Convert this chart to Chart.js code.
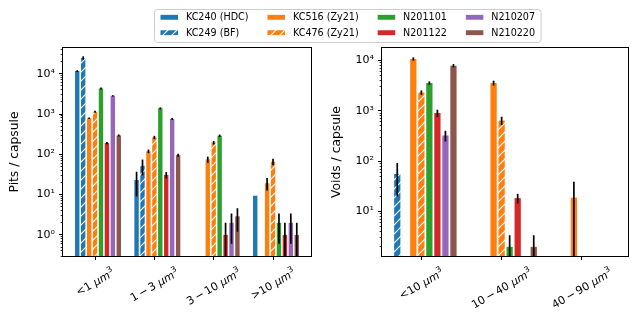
<!DOCTYPE html>
<html>
<head>
<meta charset="utf-8">
<script src="https://cdn.jsdelivr.net/npm/chart.js@4.4.1/dist/chart.umd.min.js"></script>
<style>
  html, body { margin: 0; padding: 0; background: #fff; }
  #wrap { position: relative; width: 639px; height: 323px; overflow: hidden; }
  canvas { position: absolute; top: 0; }
  #pits { left: 0; }
  #voids { left: 322px; }
</style>
</head>
<body>
<div id="wrap">
  <canvas id="pits" width="639" height="323"></canvas>
  <canvas id="voids" width="317" height="323"></canvas>
</div>
<script>
// samples, in legend order
const samples = ['KC240 (HDC)', 'KC249 (BF)', 'KC516 (Zy21)', 'KC476 (Zy21)', 'N201101', 'N201122', 'N210207', 'N210220'];
const sampleColors = ['#1f77b4', '#1f77b4', '#ff7f0e', '#ff7f0e', '#2ca02c', '#d62728', '#9467bd', '#8c564b'];
const sampleHatched = [false, true, false, true, false, false, false, false];

// pits per capsule, one row per sample, one column per size bin
const pitBins = ['<1', '1\u2009\u2212\u20093', '3\u2009\u2212\u200910', '>10'];
const pitValues = [
  [11600, 23, null, 9.4],     // KC240
  [24700, 52, null, null],    // KC249
  [787, 119, 74.5, 19.2],     // KC516
  [1140, 263, 195, 65.5],     // KC476
  [4290, 1384, 289, 2],       // N201101
  [191, 30.7, 1, 1],          // N201122
  [2820, 755, 2, 2],          // N210207
  [294, 95, 2.9, 1]           // N210220
];
const pitErrors = [
  [600, 14, 0, 0],
  [2300, 22, 0, 0],
  [30, 12, 13, 6.5],
  [70, 25, 20, 12],
  [240, 80, 20, 1.4],
  [12, 5.5, 1, 1],
  [110, 45, 1.4, 1.4],
  [17, 8, 1.7, 1]
];

// voids per capsule
const voidBins = ['<10', '10\u2009\u2212\u200940', '40\u2009\u2212\u200990'];
const voidValues = [
  [null, null, null],         // KC240
  [56, null, null],           // KC249
  [10700, 3560, 19],          // KC516
  [2310, 643, null],          // KC476
  [3560, 2, null],            // N201101
  [900, 18.5, null],          // N201122
  [324, null, null],          // N210207
  [7850, 2, null]             // N210220
];
const voidErrors = [
  [0, 0, 0],
  [36, 0, 0],
  [800, 400, 20],
  [230, 120, 0],
  [270, 1.4, 0],
  [150, 4, 0],
  [78, 0, 0],
  [600, 1.4, 0]
];
// slot order of the samples inside each group of the voids panel
const voidOrder = [1, 0, 2, 3, 4, 5, 6, 7];

const FONT = 'DejaVu Sans';
const SUP = { '-': '\u207b', '0': '\u2070', '1': '\u00b9', '2': '\u00b2', '3': '\u00b3', '4': '\u2074' };

function hatch(color) {
  const s = 9;
  const c = document.createElement('canvas');
  c.width = s; c.height = s;
  const g = c.getContext('2d');
  g.fillStyle = color;
  g.fillRect(0, 0, s, s);
  g.strokeStyle = '#fff';
  g.lineWidth = 1.2;
  g.beginPath();
  g.moveTo(-1, s + 1); g.lineTo(s + 1, -1);
  g.moveTo(-1, 1); g.lineTo(1, -1);
  g.moveTo(s - 1, s + 1); g.lineTo(s + 1, s - 1);
  g.stroke();
  return document.getElementById('pits').getContext('2d').createPattern(c, 'repeat');
}
const sampleFills = sampleColors.map((c, i) => sampleHatched[i] ? hatch(c) : c);

function makeDatasets(values, errors, order) {
  return order.map(s => ({
    label: samples[s],
    data: values[s].map((v, i) => ({ x: i + 0.05, y: v })),
    errors: errors[s],
    backgroundColor: sampleFills[s],
    borderWidth: 0
  }));
}

function powerLabel(value) {
  const e = Math.round(Math.log10(value));
  if (Math.abs(value - Math.pow(10, e)) > 1e-9 * value) return '';
  return '10' + String(e).split('').map(ch => SUP[ch]).join('');
}

function logTicks(major) {
  return scale => {
    const ticks = [];
    for (let e = Math.floor(Math.log10(scale.min)); e <= Math.ceil(Math.log10(scale.max)); e++) {
      for (let k = 1; k < 10; k++) {
        const v = k * Math.pow(10, e);
        if (v >= scale.min && v <= scale.max && (k === 1) === major) ticks.push({ value: v, major: k === 1 });
      }
    }
    scale.ticks = ticks;
  };
}

function xScale(min, max, n) {
  return {
    type: 'linear', min, max, offset: false,
    afterBuildTicks: s => { s.ticks = Array.from({ length: n }, (_, i) => ({ value: i })); },
    afterFit: s => { s.height = 20; },
    border: { display: false },
    grid: { offset: false, drawOnChartArea: false, color: '#000', tickLength: 4 },
    ticks: { display: false }
  };
}

function yScales(min, max, title, width) {
  return {
    y: {
      type: 'logarithmic', min, max, weight: 0,
      afterBuildTicks: logTicks(true),
      afterFit: s => { s.width = width; },
      border: { display: false },
      grid: { drawOnChartArea: false, color: '#000', tickLength: 4 },
      ticks: { autoSkip: false, padding: 4, color: '#000', font: { family: FONT, size: 11 }, callback: powerLabel },
      title: { display: true, text: title, color: '#000', font: { family: FONT, size: 12.3 }, padding: { top: 7.6, bottom: 0 } }
    },
    yMinor: {
      type: 'logarithmic', position: 'left', min, max, weight: -1,
      afterBuildTicks: logTicks(false),
      afterFit: s => { s.width = 0; },
      border: { display: false },
      grid: { drawOnChartArea: false, color: '#000', tickLength: 2.4, lineWidth: 0.8 },
      ticks: { display: false }
    }
  };
}

const errorBarPlugin = {
  id: 'errorBars',
  afterDatasetsDraw(chart) {
    const { ctx, chartArea: a } = chart;
    const y = chart.scales.y;
    ctx.save();
    ctx.beginPath();
    ctx.rect(a.left, a.top, a.right - a.left, a.bottom - a.top);
    ctx.clip();
    ctx.strokeStyle = '#000';
    ctx.lineWidth = 1.7;
    chart.data.datasets.forEach((ds, i) => {
      chart.getDatasetMeta(i).data.forEach((bar, j) => {
        const v = ds.data[j].y, e = ds.errors[j];
        if (v == null || !e) return;
        const top = y.getPixelForValue(v + e);
        const bot = v - e > 0 ? y.getPixelForValue(v - e) : a.bottom + 2;
        ctx.beginPath();
        ctx.moveTo(bar.x, top);
        ctx.lineTo(bar.x, bot);
        ctx.stroke();
      });
    });
    ctx.restore();
  }
};

const framePlugin = {
  id: 'frame',
  afterDraw(chart) {
    const { ctx, chartArea: a } = chart;
    ctx.save();
    ctx.strokeStyle = '#000';
    ctx.lineWidth = 1;
    ctx.strokeRect(Math.round(a.left) - 0.5, Math.round(a.top) - 0.5,
      Math.round(a.right - a.left) + 1, Math.round(a.bottom - a.top) + 1);
    ctx.restore();
  }
};

// rotated tick labels "<bin> μm³", centred under each tick like matplotlib
function binLabelPlugin(bins) {
  return {
    id: 'binLabels',
    afterDraw(chart) {
      const ctx = chart.ctx;
      const x = chart.scales.x;
      const fs = 11;
      const top = chart.chartArea.bottom + 9.5;
      const ang = Math.PI / 6;
      bins.forEach((bin, i) => {
        const parts = [
          [bin + ' ', fs + 'px "' + FONT + '"', 0],
          ['\u03bcm', 'oblique ' + fs + 'px "' + FONT + '"', 0],
          ['3', Math.round(fs * 0.7) + 'px "' + FONT + '"', -0.38 * fs]
        ];
        let w = 0;
        parts.forEach(p => { ctx.font = p[1]; p.push(ctx.measureText(p[0]).width); w += p[3]; });
        const h = fs * 1.25;
        const bh = w * Math.sin(ang) + h * Math.cos(ang);
        ctx.save();
        ctx.translate(x.getPixelForValue(i), top + bh / 2);
        ctx.rotate(-ang);
        ctx.fillStyle = '#000';
        ctx.textAlign = 'left';
        ctx.textBaseline = 'middle';
        let cx = -w / 2;
        parts.forEach(p => { ctx.font = p[1]; ctx.fillText(p[0], cx, p[2] + 1); cx += p[3]; });
        ctx.restore();
      });
    }
  };
}

// shared legend: 4 columns x 2 rows, filled column by column
const legendPlugin = {
  id: 'sampleLegend',
  afterDraw(chart) {
    const ctx = chart.ctx;
    const fs = 9.6;
    const hw = 18.5, hh = 6.5, tp = 7.4, cs = 18.5;
    const rows = [17.3, 32.7];
    ctx.save();
    ctx.font = fs + 'px "' + FONT + '"';
    const cols = [];
    let x = 160;
    for (let c = 0; c < samples.length / 2; c++) {
      const w = Math.max(ctx.measureText(samples[2 * c]).width, ctx.measureText(samples[2 * c + 1]).width);
      cols.push(x);
      x += hw + tp + w + cs;
    }
    const right = x - cs + 6;
    ctx.fillStyle = 'rgba(255,255,255,0.8)';
    ctx.strokeStyle = '#cccccc';
    ctx.lineWidth = 1;
    ctx.beginPath();
    ctx.roundRect(154.5, 9.5, right - 154.5, 33, 3);
    ctx.fill();
    ctx.stroke();
    samples.forEach((s, i) => {
      const cx = cols[Math.floor(i / 2)];
      const cy = rows[i % 2];
      ctx.fillStyle = sampleFills[i];
      ctx.fillRect(cx + 0.5, cy - hh / 2 + 0.8, hw - 1, hh - 1.6);
      ctx.fillStyle = '#000';
      ctx.textAlign = 'left';
      ctx.textBaseline = 'middle';
      ctx.fillText(s, cx + hw + tp, cy + 0.5);
    });
    ctx.restore();
  }
};

const common = {
  responsive: false,
  animation: false,
  events: [],
  plugins: { legend: { display: false }, tooltip: { enabled: false } }
};

new Chart(document.getElementById('pits'), {
  type: 'bar',
  data: { datasets: makeDatasets(pitValues, pitErrors, [0, 1, 2, 3, 4, 5, 6, 7]) },
  options: Object.assign({}, common, {
    layout: { padding: { left: 0, top: 48, right: 328, bottom: 47 } },
    datasets: { bar: { categoryPercentage: 0.8, barPercentage: 0.74 } },
    scales: Object.assign({ x: xScale(-0.54, 3.64, pitBins.length) },
      yScales(0.348, 43450, 'Pits / capsule', 63))
  }),
  plugins: [errorBarPlugin, framePlugin, binLabelPlugin(pitBins), legendPlugin]
});

new Chart(document.getElementById('voids'), {
  type: 'bar',
  data: { datasets: makeDatasets(voidValues, voidErrors, voidOrder) },
  options: Object.assign({}, common, {
    layout: { padding: { left: 0, top: 48, right: 11, bottom: 47 } },
    datasets: { bar: { categoryPercentage: 0.8, barPercentage: 0.78 } },
    scales: Object.assign({ x: xScale(-0.49, 2.574, voidBins.length) },
      yScales(1.318, 17620, 'Voids / capsule', 60))
  }),
  plugins: [errorBarPlugin, framePlugin, binLabelPlugin(voidBins)]
});
</script>
</body>
</html>
